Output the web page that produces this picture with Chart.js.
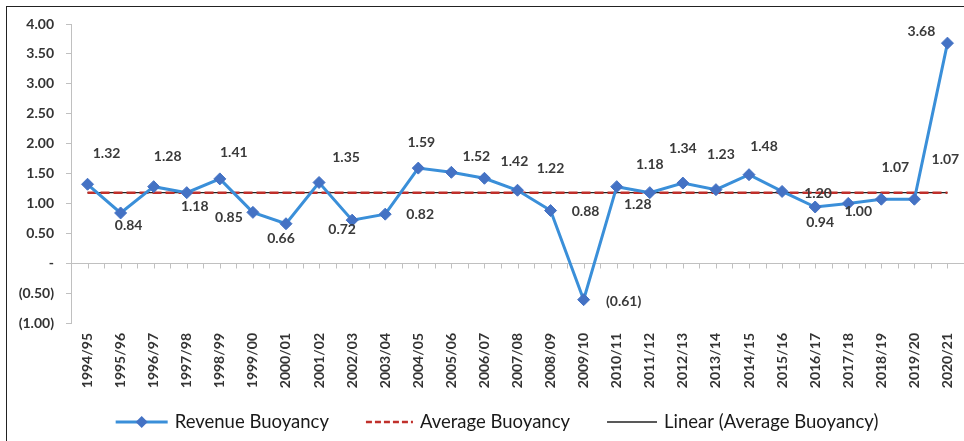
<!DOCTYPE html>
<html>
<head>
<meta charset="utf-8">
<script src="https://cdn.jsdelivr.net/npm/chart.js@4.4.1/dist/chart.umd.min.js"></script>
<style>
  body { margin: 0; background: #fff; }
  #wrap { position: relative; width: 964px; height: 441px; overflow: hidden; }
  #frame { position: absolute; left: 6px; top: 6px; width: 1000px; height: 500px;
           border-left: 1.5px solid #222; border-top: 1.5px solid #222; pointer-events: none; }
</style>
</head>
<body>
<div id="wrap">
  <canvas id="chart" width="964" height="441"></canvas>
  <div id="frame"></div>
</div>
<script>
const years = ["1994/95", "1995/96", "1996/97", "1997/98", "1998/99", "1999/00", "2000/01",
  "2001/02", "2002/03", "2003/04", "2004/05", "2005/06", "2006/07", "2007/08", "2008/09",
  "2009/10", "2010/11", "2011/12", "2012/13", "2013/14", "2014/15", "2015/16", "2016/17",
  "2017/18", "2018/19", "2019/20", "2020/21"];
const revenueBuoyancy = [1.32, 0.84, 1.28, 1.18, 1.41, 0.85, 0.66, 1.35, 0.72, 0.82, 1.59, 1.52,
  1.42, 1.22, 0.88, -0.61, 1.28, 1.18, 1.34, 1.23, 1.48, 1.20, 0.94, 1.00, 1.07, 1.07, 3.68];
const averageBuoyancy = [1.18, 1.18, 1.18, 1.18, 1.18, 1.18, 1.18, 1.18, 1.18, 1.18, 1.18, 1.18,
  1.18, 1.18, 1.18, 1.18, 1.18, 1.18, 1.18, 1.18, 1.18, 1.18, 1.18, 1.18, 1.18, 1.18, 1.18];
const linearAverage = [1.18, 1.18, 1.18, 1.18, 1.18, 1.18, 1.18, 1.18, 1.18, 1.18, 1.18, 1.18,
  1.18, 1.18, 1.18, 1.18, 1.18, 1.18, 1.18, 1.18, 1.18, 1.18, 1.18, 1.18, 1.18, 1.18, 1.18];
const yTicks = [-1, -0.5, 0, 0.5, 1, 1.5, 2, 2.5, 3, 3.5, 4];

// where each value label sits relative to its point (the source chart had them moved by hand)
const labelDx = [19, 8, 14, 8, 14, -24, -5, 27, -10, 35, 3, 25, 30, 33, 35, 40, 21, 0, 0, 5, 15, 36, 5, 10, 14, 31, -26];
const labelDy = [-31, 13, -30, 14, -26, 5, 15, -25, 9, 0, -26, -16, -17, -22, 1, 2, 18, -28, -35, -35, -28, 2, 15, 8, -32, -40, -12];

function fmt(v) {
  if (v === 0) return "-";
  if (v < 0) return "(" + Math.abs(v).toFixed(2) + ")";
  return v.toFixed(2);
}

const valueLabels = {
  id: "valueLabels",
  afterDatasetsDraw(chart) {
    const ctx = chart.ctx;
    const meta = chart.getDatasetMeta(0);
    ctx.save();
    ctx.font = "bold 14px Lato";
    ctx.fillStyle = "#3a3a3a";
    ctx.textAlign = "center";
    ctx.textBaseline = "middle";
    meta.data.forEach((pt, i) => {
      ctx.fillText(fmt(revenueBuoyancy[i]), pt.x + labelDx[i], pt.y + labelDy[i]);
    });
    ctx.restore();
  }
};

// small tick marks hanging below the zero line, at every half category
const zeroTicks = {
  id: "zeroTicks",
  beforeDatasetsDraw(chart) {
    const ctx = chart.ctx;
    const x = chart.scales.x, y = chart.scales.y;
    const y0 = Math.round(y.getPixelForValue(0)) + 0.5;
    const half = (x.getPixelForValue(1) - x.getPixelForValue(0)) / 2;
    ctx.save();
    ctx.strokeStyle = "#c0c0c0";
    ctx.lineWidth = 1;
    ctx.beginPath();
    for (let i = 0; i < years.length; i++) {
      const c = x.getPixelForValue(i);
      [c, c + half].forEach(px => {
        const p = Math.round(px) + 0.5;
        ctx.moveTo(p, y0);
        ctx.lineTo(p, y0 + 5);
      });
    }
    ctx.stroke();
    ctx.restore();
  }
};

const bottomLegend = {
  id: "bottomLegend",
  afterDraw(chart) {
    const ctx = chart.ctx;
    const sets = chart.data.datasets;
    const symW = [52, 47, 50];
    const gap = 7, space = 37;
    const y = 422;
    ctx.save();
    ctx.font = "18.5px Lato";
    ctx.textBaseline = "middle";
    const widths = sets.map((d, i) => symW[i] + gap + ctx.measureText(d.label).width);
    const total = widths.reduce((a, b) => a + b, 0) + space * (sets.length - 1);
    let x = chart.width / 2 + 15 - total / 2;
    sets.forEach((d, i) => {
      ctx.beginPath();
      ctx.strokeStyle = d.borderColor;
      ctx.lineWidth = d.borderWidth;
      ctx.setLineDash(i === 1 ? [6, 3] : []);
      ctx.moveTo(x, y);
      ctx.lineTo(x + symW[i], y);
      ctx.stroke();
      ctx.setLineDash([]);
      if (i === 0) {
        const cx = x + symW[i] / 2;
        ctx.beginPath();
        ctx.moveTo(cx, y - 6);
        ctx.lineTo(cx + 6, y);
        ctx.lineTo(cx, y + 6);
        ctx.lineTo(cx - 6, y);
        ctx.closePath();
        ctx.fillStyle = d.pointBackgroundColor;
        ctx.fill();
      }
      ctx.fillStyle = "#1a1a1a";
      ctx.fillText(d.label, x + symW[i] + gap, y);
      x += widths[i] + space;
    });
    ctx.restore();
  }
};

new Chart(document.getElementById("chart"), {
  type: "line",
  data: {
    labels: years,
    datasets: [
      {
        label: "Revenue Buoyancy",
        data: revenueBuoyancy,
        borderColor: "#3a8fd9",
        borderWidth: 3,
        pointStyle: "rectRot",
        pointRadius: 6,
        pointBackgroundColor: "#4472c4",
        pointBorderColor: "#4472c4",
        pointBorderWidth: 1,
        tension: 0
      },
      {
        label: "Average Buoyancy",
        data: averageBuoyancy,
        borderColor: "#c0302b",
        borderWidth: 2.5,
        borderDash: [9, 4],
        pointRadius: 0
      },
      {
        label: "Linear (Average Buoyancy)",
        data: linearAverage,
        borderColor: "#222222",
        borderWidth: 1.3,
        pointRadius: 0
      }
    ]
  },
  options: {
    responsive: false,
    animation: false,
    layout: { autoPadding: false, padding: { top: 24, right: 0, left: 0, bottom: 0 } },
    plugins: {
      legend: { display: false },
      tooltip: { enabled: false }
    },
    scales: {
      x: {
        offset: true,
        grid: { display: false, drawTicks: false },
        border: { display: false },
        ticks: {
          autoSkip: false,
          minRotation: 90,
          maxRotation: 90,
          padding: 10,
          color: "#333",
          font: { family: "Lato", size: 14, weight: "bold" }
        },
        afterFit(scale) {
          scale.height = 118;
          scale.paddingLeft = 0;
          scale.paddingRight = 0;
        }
      },
      y: {
        min: -1,
        max: 4,
        afterBuildTicks(scale) { scale.ticks = yTicks.map(v => ({ value: v })); },
        grid: {
          color: ctx => (ctx.tick && ctx.tick.value === 0 ? "#c0c0c0" : "rgba(0,0,0,0)"),
          tickColor: "#c0c0c0",
          tickLength: 5
        },
        border: { display: true, color: "#c0c0c0", width: 1 },
        ticks: {
          padding: 12,
          color: "#333",
          font: { family: "Lato", size: 14, weight: "bold" },
          callback: v => fmt(v)
        },
        afterFit(scale) { scale.width = 71; }
      }
    }
  },
  plugins: [zeroTicks, valueLabels, bottomLegend]
});
</script>
</body>
</html>
